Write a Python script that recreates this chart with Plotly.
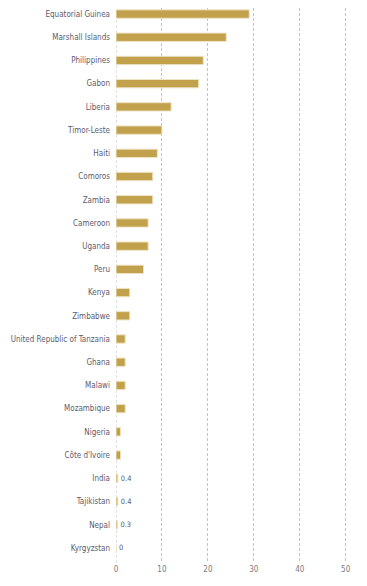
import plotly.graph_objects as go

countries = ["Equatorial Guinea", "Marshall Islands", "Philippines", "Gabon", "Liberia",
             "Timor-Leste", "Haiti", "Comoros", "Zambia", "Cameroon", "Uganda", "Peru",
             "Kenya", "Zimbabwe", "United Republic of Tanzania", "Ghana", "Malawi",
             "Mozambique", "Nigeria", "Côte d'Ivoire", "India", "Tajikistan", "Nepal",
             "Kyrgyzstan"]
values = [29, 24, 19, 18, 12, 10, 9, 8, 8, 7, 7, 6, 3, 3, 2, 2, 2, 2, 1, 1, 0.4, 0.4, 0.3, 0]
x_ticks = [0, 10, 20, 30, 40, 50]

labels = [("%g" % v) if v < 1 else "" for v in values]
FONT = "DejaVu Sans Condensed, Liberation Sans Narrow, sans-serif"

fig = go.Figure(go.Bar(
    x=values, y=countries, orientation="h",
    marker=dict(color="#c1a14b", line=dict(color="#eee3c6", width=1)),
    width=0.36,
    text=labels, textposition="outside", cliponaxis=False,
    textfont=dict(family=FONT, size=8, color="#5c5c6e"),
))

fig.update_layout(
    width=359, height=578,
    margin=dict(l=108, r=19, t=0, b=23),
    plot_bgcolor="white", paper_bgcolor="white",
    showlegend=False,
    font=dict(family=FONT, size=8, color="#5c5c6e"),
)
fig.update_yaxes(range=[23.65, -0.26], showgrid=False, ticks="", ticklabelstandoff=5,
                 automargin=False,
                 tickfont=dict(family=FONT, size=8, color="#5c5c6e"), showline=False, zeroline=False)
fig.update_xaxes(range=[0, 50.5], tickvals=x_ticks, showgrid=True, gridcolor="#c4c4c4",
                 griddash="3px,2px", gridwidth=1, zeroline=False, showline=False,
                 automargin=False,
                 tickfont=dict(family=FONT, size=8, color="#7a7a7a"))
fig.add_shape(type="line", xref="x", yref="paper", x0=0, x1=0, y0=0, y1=1,
              line=dict(color="#c4c4c4", width=1, dash="3px,2px"), layer="below")

fig.write_html("out.html")
